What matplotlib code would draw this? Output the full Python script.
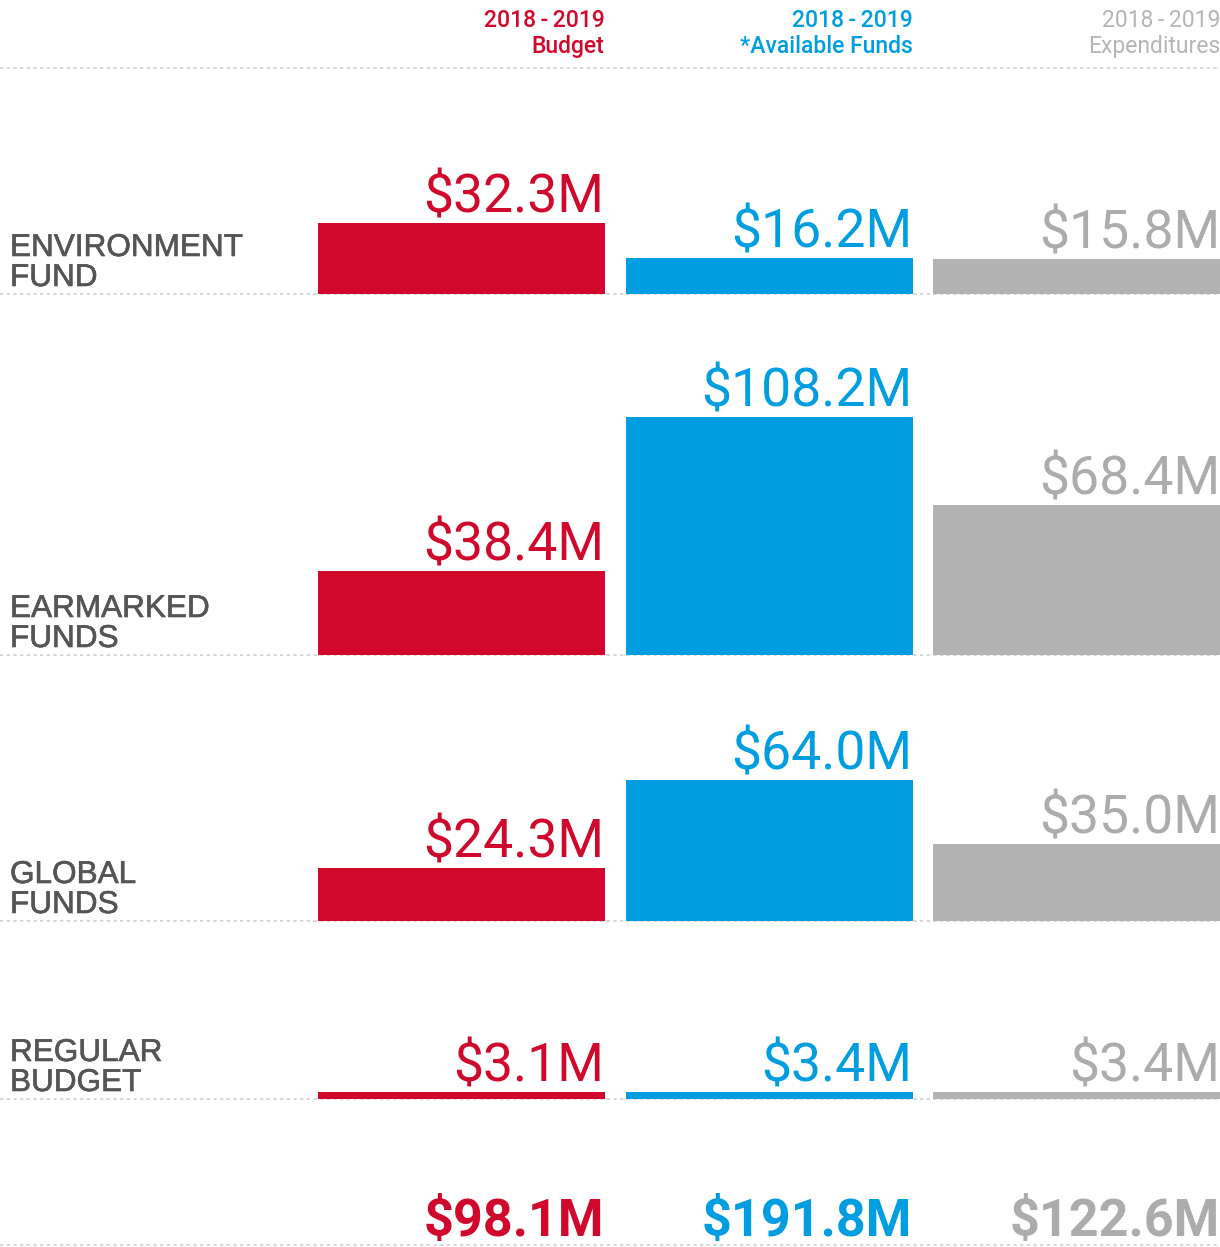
import matplotlib.pyplot as plt
import matplotlib.patheffects as pe

# funding rows, in millions of dollars
funds = [('ENVIRONMENT', 'FUND'), ('EARMARKED', 'FUNDS'),
         ('GLOBAL', 'FUNDS'), ('REGULAR', 'BUDGET')]
budget = [32.3, 38.4, 24.3, 3.1]
available = [16.2, 108.2, 64.0, 3.4]
expenditures = [15.8, 68.4, 35.0, 3.4]
years = '2018\u2009-\u20092019'
headers = ['Budget', '*Available Funds', 'Expenditures']

RED = '#d0092c'
BLUE = '#009ee0'
GREY = '#b3b3b3'
GREY_TXT = '#acacac'
DOTS = '#cfcfcf'
LABEL = '#555555'

W, H = 1220, 1247
PX_PER_M = 2.2
centers = [461, 769, 1076.5]
bar_w = 287
row_base = [294, 655, 921, 1099]
row_top = [68, 294, 655, 921]

roboto = ['Roboto', 'DejaVu Sans']
series = [budget, available, expenditures]
bar_colors = [RED, BLUE, GREY]
txt_colors = [RED, BLUE, GREY_TXT]

fig = plt.figure(figsize=(W / 100, H / 100), dpi=100)
bg = fig.add_axes([0, 0, 1, 1])
bg.set_xlim(0, W)
bg.set_ylim(H, 0)
bg.axis('off')

dotted = dict(color=DOTS, lw=1.2, ls=(0, (2, 2)))
bg.axhline(68, **dotted)
bg.axhline(1245, **dotted)

# column headers
for j, (head, c) in enumerate(zip(headers, txt_colors)):
    right = centers[j] + bar_w / 2
    weight = 'normal' if j == 2 else 'medium'
    hc = '#b5b5b5' if j == 2 else c
    bg.text(right, 27, years, ha='right', va='baseline', fontsize=16.5,
            color=hc, family=roboto, fontweight=weight)
    bg.text(right, 53, head, ha='right', va='baseline', fontsize=16.5,
            color=hc, family=roboto, fontweight=weight)

# slightly heavier row labels
heavy = [pe.withStroke(linewidth=0.45, foreground=LABEL)]

for i, (line1, line2) in enumerate(funds):
    b, t = row_base[i], row_top[i]
    ax = fig.add_axes([0, 1 - b / H, 1, (b - t) / H])
    ax.set_xlim(0, W)
    ax.set_ylim(0, (b - t) / PX_PER_M)
    ax.axis('off')
    ax.axhline(0, zorder=1, clip_on=False, **dotted)

    vals = [s[i] for s in series]
    ax.bar(centers, vals, width=bar_w, color=bar_colors, zorder=2)
    for x, v, c in zip(centers, vals, txt_colors):
        ax.annotate(f'${v:.1f}M', xy=(x + bar_w / 2, v), xytext=(0, 7.5),
                    textcoords='offset points', ha='right', va='baseline',
                    fontsize=38.5, color=c, family=roboto)

    bg.text(10, b - 38, line1, ha='left', va='baseline', fontsize=22.7,
            color=LABEL, family='Liberation Sans', path_effects=heavy)
    bg.text(10, b - 8, line2, ha='left', va='baseline', fontsize=22.7,
            color=LABEL, family='Liberation Sans', path_effects=heavy)

# totals row
for x, s, c in zip(centers, series, txt_colors):
    bg.text(x + bar_w / 2, 1236, f'${sum(s):.1f}M', ha='right',
            va='baseline', fontsize=37.5, fontweight='bold', color=c,
            family=roboto)

fig.savefig('out.png', dpi=100)
